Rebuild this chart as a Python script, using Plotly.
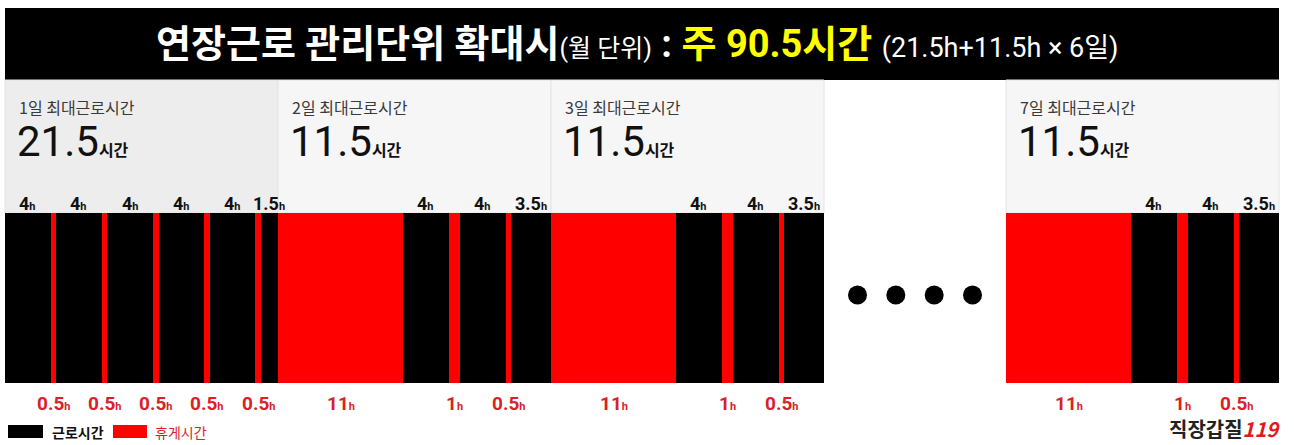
import plotly.graph_objects as go

# ---------------- data ----------------
DAY_NAMES = ["1일", "2일", "3일", "7일"]
GAP_BEFORE_H = [0, 0, 0, 16]          # blank hours (the "...." gap) before each panel

DAY1_KINDS = ["근로", "휴게", "근로", "휴게", "근로", "휴게", "근로", "휴게", "근로", "휴게", "근로"]
DAY1_HOURS = [4, 0.5, 4, 0.5, 4, 0.5, 4, 0.5, 4, 0.5, 1.5]
DAYN_KINDS = ["휴게", "근로", "휴게", "근로", "휴게", "근로"]
DAYN_HOURS = [11, 4, 1, 4, 0.5, 3.5]

SEG_KINDS = [DAY1_KINDS, DAYN_KINDS, DAYN_KINDS, DAYN_KINDS]
SEG_HOURS = [DAY1_HOURS, DAYN_HOURS, DAYN_HOURS, DAYN_HOURS]

TITLE_MAIN = "연장근로 관리단위 확대시"
TITLE_SUB = "(월 단위)"
TITLE_HL = "주 90.5시간"
TITLE_FORMULA = "(21.5h+11.5h × 6일)"
LEGEND_LABELS = ["근로시간", "휴게시간"]

# ---------------- style ----------------
W, H = 1294, 445
PX_PER_H = 11.375
X0 = 5
BLACK = "#000000"
RED = "#ff0000"
LABEL_RED = "#d92228"
FONT = "Roboto, 'Noto Sans CJK KR', sans-serif"
KFONT = "'Noto Sans CJK KR', Roboto, sans-serif"
HEADER_TOP, HEADER_BOT = 8, 80
BAR_TOP, BAR_BOT = 213, 383
BAR_MID = (BAR_TOP + BAR_BOT) / 2


def fmt(h):
    return str(int(h)) if float(h).is_integer() else str(h)


def paper_x(px):
    return px / W


# layout of days along the hour axis
day_start = []
t = 0
for gap, hrs in zip(GAP_BEFORE_H, SEG_HOURS):
    t += gap
    day_start.append(t)
    t += sum(hrs)
total_h = t

fig = go.Figure()

shapes = []
annotations = []

# header bar
shapes.append(dict(type="rect", xref="x", yref="y", x0=0, x1=total_h,
                   y0=HEADER_TOP, y1=HEADER_BOT, fillcolor=BLACK, line_width=0, layer="below"))

# panels
work_s, work_d, brk_s, brk_d = [], [], [], []
for i, (name, kinds, hrs) in enumerate(zip(DAY_NAMES, SEG_KINDS, SEG_HOURS)):
    s0 = day_start[i]
    s1 = s0 + sum(hrs)
    shapes.append(dict(type="rect", xref="x", yref="y", x0=s0, x1=s1,
                       y0=HEADER_BOT, y1=BAR_TOP,
                       fillcolor="#ededed" if i == 0 else "#f6f6f6",
                       line=dict(color="#e4e4e4", width=1), layer="below"))
    work_total = sum(h for k, h in zip(kinds, hrs) if k == "근로")
    px_left = X0 + s0 * PX_PER_H + 13
    annotations.append(dict(x=paper_x(px_left), xref="paper", y=107, yref="y",
                            text=f"{name} 최대근로시간", showarrow=False,
                            xanchor="left", yanchor="middle", borderpad=0,
                            font=dict(family=KFONT, size=16, color="#3a3a3a")))
    annotations.append(dict(x=paper_x(px_left - 2), xref="paper", y=167, yref="y",
                            text=f"{fmt(work_total)}<span style='font-size:16px'><b>시간</b></span>",
                            showarrow=False, xanchor="left", yanchor="bottom", borderpad=0,
                            font=dict(family=FONT, size=42, color="#111111")))
    pos = s0
    for k, h in zip(kinds, hrs):
        c = pos + h / 2
        if k == "근로":
            work_s.append(pos); work_d.append(h)
            annotations.append(dict(x=c, xref="x", y=203, yref="y",
                                    text=f"<b>{fmt(h)}<span style='font-size:11px'>h</span></b>",
                                    showarrow=False, xanchor="center", yanchor="middle",
                                    font=dict(family=FONT, size=18, color="#111111")))
        else:
            brk_s.append(pos); brk_d.append(h)
            annotations.append(dict(x=c, xref="x", y=403, yref="y",
                                    text=f"<b>{fmt(h)}<span style='font-size:11px'>h</span></b>",
                                    showarrow=False, xanchor="center", yanchor="middle",
                                    font=dict(family=FONT, size=19, color=LABEL_RED)))
        pos += h

fig.add_trace(go.Bar(orientation="h", y=[BAR_MID] * len(work_d), x=work_d, base=work_s,
                     width=BAR_BOT - BAR_TOP, marker=dict(color=BLACK, line_width=0),
                     name=LEGEND_LABELS[0], showlegend=False, hoverinfo="skip"))
fig.add_trace(go.Bar(orientation="h", y=[BAR_MID] * len(brk_d), x=brk_d, base=brk_s,
                     width=BAR_BOT - BAR_TOP, marker=dict(color=RED, line_width=0),
                     name=LEGEND_LABELS[1], showlegend=False, hoverinfo="skip"))

# ellipsis dots in the gap
gap_mid = day_start[3] - GAP_BEFORE_H[3] / 2
dot_x = [gap_mid + (j - 1.5) * 3.37 for j in range(4)]
fig.add_trace(go.Scatter(x=dot_x, y=[295] * 4, mode="markers",
                         marker=dict(color=BLACK, size=19), showlegend=False, hoverinfo="skip"))

# header text
header = (f"<b>{TITLE_MAIN}</b><span style='font-size:25px'>{TITLE_SUB}</span> "
          f"<b>:</b> <span style='color:#ffff00'><b>{TITLE_HL}</b></span> "
          f"<span style='font-size:27px'>{TITLE_FORMULA}</span>")
annotations.append(dict(x=paper_x(637), xref="paper", y=44, yref="y", text=header,
                        showarrow=False, xanchor="center", yanchor="middle",
                        font=dict(family=FONT, size=38, color="#ffffff")))

# legend (drawn)
shapes.append(dict(type="rect", xref="paper", yref="y", x0=paper_x(8), x1=paper_x(43),
                   y0=425, y1=438, fillcolor=BLACK, line_width=0))
shapes.append(dict(type="rect", xref="paper", yref="y", x0=paper_x(113), x1=paper_x(147),
                   y0=425, y1=438, fillcolor=RED, line_width=0))
annotations.append(dict(x=paper_x(50), xref="paper", y=432, yref="y", text=f"<b>{LEGEND_LABELS[0]}</b>",
                        showarrow=False, xanchor="left", yanchor="middle",
                        font=dict(family=KFONT, size=14, color="#111111")))
annotations.append(dict(x=paper_x(153), xref="paper", y=432, yref="y", text=LEGEND_LABELS[1],
                        showarrow=False, xanchor="left", yanchor="middle",
                        font=dict(family=KFONT, size=14, color=LABEL_RED)))

# logo
annotations.append(dict(x=paper_x(1282), xref="paper", y=428, yref="y",
                        text="<b>직장갑질</b><span style='color:#e3171d'><b><i>119</i></b></span>",
                        showarrow=False, xanchor="right", yanchor="middle",
                        font=dict(family=KFONT, size=20, color="#222222")))

fig.update_layout(
    width=W, height=H, margin=dict(l=0, r=0, t=0, b=0),
    paper_bgcolor="#ffffff", plot_bgcolor="#ffffff",
    barmode="overlay", bargap=0,
    xaxis=dict(range=[-X0 / PX_PER_H, (W - X0) / PX_PER_H], visible=False, fixedrange=True),
    yaxis=dict(range=[H, 0], visible=False, fixedrange=True),
    shapes=shapes, annotations=annotations, showlegend=False,
    font=dict(family=FONT),
)

fig.write_html("out.html", config={"displayModeBar": False},
               post_script="document.body.style.margin='0';document.body.style.overflow='hidden';")
